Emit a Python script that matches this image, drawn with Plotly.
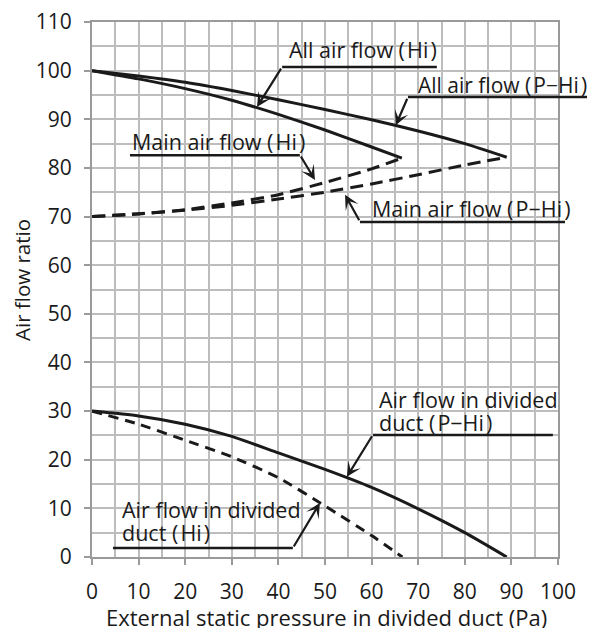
import plotly.graph_objects as go

# Data
all_hi_x = [0, 10, 20, 30, 40, 50, 60, 66.5]
all_hi_y = [100, 98.3, 96.3, 93.9, 91.0, 87.8, 84.3, 82.0]

all_phi_x = [0, 10, 20, 30, 40, 50, 60, 70, 80, 89]
all_phi_y = [100, 98.9, 97.6, 95.9, 94.0, 92.0, 89.9, 87.6, 85.0, 82.2]

main_hi_x = [0, 10, 20, 30, 40, 50, 60, 66.5]
main_hi_y = [70, 70.5, 71.4, 72.8, 74.5, 77.0, 79.8, 82.0]

main_phi_x = [0, 10, 20, 30, 40, 50, 60, 70, 80, 89]
main_phi_y = [70, 70.6, 71.3, 72.3, 73.6, 75.0, 76.7, 78.6, 80.6, 82.2]

div_phi_x = [0, 10, 20, 30, 40, 50, 60, 70, 80, 89]
div_phi_y = [30, 29.0, 27.3, 24.8, 21.4, 18.0, 14.3, 9.9, 5.0, 0]

div_hi_x = [0, 10, 20, 30, 40, 50, 60, 66.6]
div_hi_y = [30, 27.3, 24.0, 20.6, 16.3, 10.5, 4.4, 0]

x_ticks = list(range(0, 101, 10))
y_ticks = list(range(0, 111, 10))

FONT = "Open Sans, Noto Sans CJK JP"
INK = "#1a1a1a"
HS = "\u200a"

fig = go.Figure()
series = [
    (all_hi_x, all_hi_y, "solid"),
    (all_phi_x, all_phi_y, "solid"),
    (main_hi_x, main_hi_y, "13px,7px"),
    (main_phi_x, main_phi_y, "13px,7px"),
    (div_phi_x, div_phi_y, "solid"),
    (div_hi_x, div_hi_y, "10px,7px"),
]
for xs, ys, dash in series:
    fig.add_trace(go.Scatter(x=xs, y=ys, mode="lines",
                             line=dict(color=INK, width=3, dash=dash, shape="spline", smoothing=0.6),
                             showlegend=False, hoverinfo="skip"))

# Labels (text), underline segments and arrow leaders
labels = [
    (f"All air flow ({HS}Hi{HS})", 0.418, 0.948, 21.5),
    (f"All air flow ({HS}P\u2212Hi{HS})", 0.695, 0.882, 21),
    (f"Main air flow ({HS}Hi{HS})", 0.0815, 0.776, 21.5),
    (f"Main air flow ({HS}P\u2212Hi{HS})", 0.597, 0.652, 21.5),
    ("Air flow in divided", 0.612, 0.2953, 21.5),
    (f"duct ({HS}P\u2212Hi{HS})", 0.612, 0.2523, 21.5),
    ("Air flow in divided", 0.060, 0.0879, 21.5),
    (f"duct ({HS}Hi{HS})", 0.060, 0.0467, 21.5),
]
for txt, x, y, fs in labels:
    fig.add_annotation(text=txt, x=x, y=y, xref="paper", yref="paper",
                       xanchor="left", yanchor="middle", showarrow=False, align="left",
                       font=dict(family=FONT, size=fs, color=INK))

underlines = [
    (0.408, 0.740, 0.916),
    (0.678, 1.069, 0.860),
    (0.0815, 0.446, 0.751),
    (0.575, 1.015, 0.626),
    (0.603, 0.989, 0.228),
    (0.045, 0.431, 0.0168),
]
for x0, x1, y in underlines:
    fig.add_shape(type="line", xref="paper", yref="paper", x0=x0, x1=x1, y0=y, y1=y,
                  line=dict(color=INK, width=2.5))

arrows = [
    (0.354, 0.841, 25, -40),
    (0.652, 0.807, 12, -28),
    (0.4785, 0.7047, -15, -25),
    (0.543, 0.677, 15, 27),
    (0.547, 0.150, 26, -42),
    (0.489, 0.101, -27, 45),
]
for x, y, ax, ay in arrows:
    fig.add_annotation(text="", x=x, y=y, xref="paper", yref="paper", ax=ax, ay=ay,
                       axref="pixel", ayref="pixel", showarrow=True, arrowhead=3,
                       arrowsize=1.1, arrowwidth=2.2, arrowcolor=INK, standoff=0)

# axis titles placed as in the reference
fig.add_annotation(text="Air flow ratio", x=-0.150, y=0.518, xref="paper", yref="paper",
                   textangle=-90, showarrow=False, xanchor="center", yanchor="middle",
                   font=dict(family=FONT, size=20.5, color=INK))
fig.add_annotation(text="External static pressure in divided duct (Pa)", x=0.504, y=-0.1115,
                   xref="paper", yref="paper", showarrow=False, xanchor="center", yanchor="middle",
                   font=dict(family=FONT, size=22, color=INK))

grid_col = "#bdbdbd"
common = dict(showgrid=True, gridcolor=grid_col, gridwidth=1.5,
              showline=True, linecolor="#9a9a9a", linewidth=2, mirror=True,
              ticks="outside", ticklen=6, tickcolor="#9a9a9a", tickwidth=1.5,
              zeroline=False, automargin=False, ticklabeloverflow="allow",
              tickfont=dict(family=FONT, size=21, color=INK))
fig.update_xaxes(range=[0, 100], tickvals=x_ticks, ticklabelstandoff=9,
                 minor=dict(dtick=5, showgrid=True, gridcolor=grid_col, gridwidth=1.5),
                 **common)
fig.update_yaxes(range=[0, 110], tickvals=y_ticks, ticklabelstandoff=8,
                 minor=dict(dtick=5, showgrid=True, gridcolor=grid_col, gridwidth=1.5),
                 **common)

# page body has an 8px margin, so the figure is shifted by (8, 8)
fig.update_layout(width=587, height=620, margin=dict(l=84, r=37, t=14, b=71),
                  plot_bgcolor="white", paper_bgcolor="white")

fig.write_html("out.html")
